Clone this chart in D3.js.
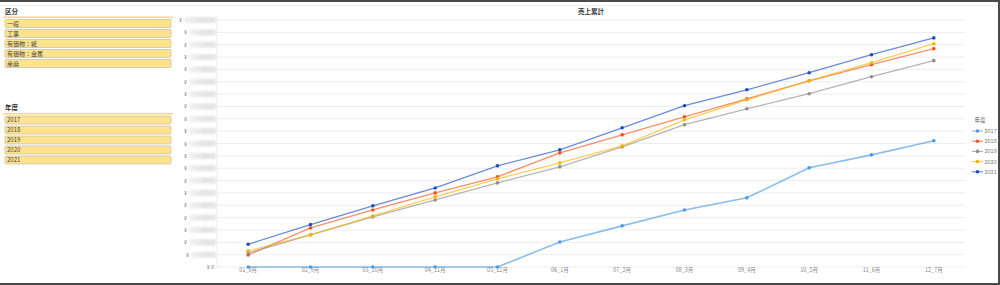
<!DOCTYPE html>
<html>
<head>
<meta charset="utf-8">
<script src="https://cdn.jsdelivr.net/npm/d3@7/dist/d3.min.js"></script>
<style>
  body { margin: 0; background: #fff; }
  svg { display: block; font-family: "Noto Sans CJK JP", "Noto Sans", sans-serif; }
</style>
</head>
<body>
<div id="chart"></div>
<script>
// data (values in units of one grid step, labels are masked in the source)
const months = ["01_8月", "02_9月", "03_10月", "04_11月", "05_12月", "06_1月",
                "07_2月", "08_3月", "09_4月", "10_5月", "11_6月", "12_7月"];
const years = ["2017", "2018", "2019", "2020", "2021"];
const kubun = ["一般", "工事", "有価物：紙", "有価物：金属", "産廃"];
const v2017 = [0, 0, 0, 0, 0, 2.03, 3.33, 4.62, 5.6, 8.03, 9.08, 10.22];
const v2018 = [0.97, 3.16, 4.62, 6.0, 7.3, 9.24, 10.7, 12.16, 13.62, 15.08, 16.38, 17.68];
const v2019 = [1.14, 2.6, 4.05, 5.43, 6.81, 8.11, 9.73, 11.52, 12.81, 14.03, 15.41, 16.71];
const v2020 = [1.3, 2.6, 4.13, 5.68, 7.14, 8.43, 9.81, 11.92, 13.54, 15.08, 16.54, 18.08];
const v2021 = [1.84, 3.43, 4.95, 6.4, 8.19, 9.49, 11.27, 13.06, 14.35, 15.73, 17.19, 18.55];
const yTicks = d3.range(0, 21, 1);
const seriesColors = ["#4a9be3", "#f4511e", "#8e8e8e", "#ffb300", "#1a4fc0"];

const series = years.map((y, i) => ({
  name: y,
  color: seriesColors[i],
  values: [v2017, v2018, v2019, v2020, v2021][i]
}));

const W = 1000, H = 285;
const svg = d3.select('#chart').append('svg')
  .attr('width', W)
  .attr('height', H);

const defs = svg.append('defs');
defs.append('filter').attr('id', 'blur')
  .attr('x', '-20%').attr('y', '-80%').attr('width', '140%').attr('height', '260%')
  .append('feGaussianBlur').attr('stdDeviation', 1.1);
const grad = defs.append('linearGradient').attr('id', 'mask');
grad.append('stop').attr('offset', '0%').attr('stop-color', '#f2f2f2');
grad.append('stop').attr('offset', '60%').attr('stop-color', '#e3e3e3');
grad.append('stop').attr('offset', '100%').attr('stop-color', '#e6e6e6');

// window frame
svg.append('rect').attr('x', 0).attr('y', 0).attr('width', W).attr('height', 2).attr('fill', '#4a4a4a');
svg.append('rect').attr('x', W - 2).attr('y', 0).attr('width', 2).attr('height', H).attr('fill', '#4a4a4a');
svg.append('rect').attr('x', 0).attr('y', H - 2).attr('width', W).attr('height', 2).attr('fill', '#4a4a4a');
svg.append('line').attr('x1', 0).attr('x2', W - 2).attr('y1', 5.5).attr('y2', 5.5)
  .attr('stroke', '#eeeeee');

// left filter panel
function panel(title, items, top) {
  const g = svg.append('g').attr('transform', `translate(0,${top})`);
  g.append('text')
    .attr('x', 5).attr('y', 0)
    .attr('font-size', 6.5).attr('font-weight', 'bold').attr('fill', '#333')
    .text(title);
  g.append('rect').attr('x', 3).attr('y', 3).attr('width', 170).attr('height', 1.5)
    .attr('fill', '#fbd873');
  const b = g.selectAll('.btn').data(items).enter().append('g')
    .attr('class', 'btn')
    .attr('transform', (d, i) => `translate(5,${6 + i * 10})`);
  b.append('rect')
    .attr('width', 166).attr('height', 8).attr('rx', 1)
    .attr('fill', '#ffe38c')
    .attr('stroke', '#c9c3ae').attr('stroke-width', 0.8);
  b.append('text')
    .attr('x', 2).attr('y', 6)
    .attr('font-size', 6).attr('fill', '#444')
    .text(d => d);
}
panel('区分', kubun, 13.5);
panel('年度', years, 110);

// chart
const x = d3.scaleBand().domain(months).range([217, 965]);
const y = d3.scaleLinear().domain([0, 20]).range([267, 20]);

svg.append('text')
  .attr('x', (217 + 965) / 2).attr('y', 14)
  .attr('text-anchor', 'middle')
  .attr('font-size', 6.5).attr('font-weight', 'bold').attr('fill', '#333')
  .text('売上累計');

// grid
svg.append('g').selectAll('line').data(yTicks).enter().append('line')
  .attr('x1', 217).attr('x2', 965)
  .attr('y1', d => y(d)).attr('y2', d => y(d))
  .attr('stroke', '#ededed').attr('stroke-width', 1);
svg.append('line').attr('x1', 217).attr('x2', 217).attr('y1', 16).attr('y2', 268)
  .attr('stroke', '#ededed');

// y labels (amounts masked as in the source)
const yl = svg.append('g').selectAll('g').data(yTicks).enter().append('g');
yl.filter(d => d > 0).append('rect')
  .attr('x', d => d === 20 ? 184 : (d === 1 ? 191 : 189))
  .attr('y', d => y(d) - 3)
  .attr('width', d => d === 20 ? 32 : (d === 1 ? 25 : 27))
  .attr('height', 6)
  .attr('fill', 'url(#mask)')
  .attr('filter', 'url(#blur)');
yl.append('text')
  .attr('x', d => d === 0 ? 214 : (d === 20 ? 182 : (d === 1 ? 189 : 187)))
  .attr('y', d => y(d) + 2)
  .attr('text-anchor', 'end')
  .attr('font-size', 5.5).attr('fill', '#777')
  .text(d => d === 0 ? '¥ 0' : '¥');

// x labels
svg.append('g').selectAll('text').data(months).enter().append('text')
  .attr('x', d => x(d) + x.bandwidth() / 2)
  .attr('y', 272)
  .attr('text-anchor', 'middle')
  .attr('font-size', 5.5).attr('fill', '#888')
  .text(d => d);

// lines
const line = d3.line()
  .x((d, i) => x(months[i]) + x.bandwidth() / 2)
  .y(d => y(d));

const sg = svg.append('g').selectAll('g').data(series).enter().append('g');
sg.append('path')
  .attr('d', d => line(d.values))
  .attr('fill', 'none')
  .attr('stroke', d => d.color)
  .attr('stroke-opacity', 0.65)
  .attr('stroke-width', d => d.name === '2017' ? 1.6 : 1.3);
sg.selectAll('circle').data(d => d.values.map(v => ({v, c: d.color}))).enter().append('circle')
  .attr('cx', (d, i) => x(months[i]) + x.bandwidth() / 2)
  .attr('cy', d => y(d.v))
  .attr('r', 1.8)
  .attr('fill', d => d.c);

// legend
const legend = svg.append('g').attr('transform', 'translate(972,0)');
legend.append('text')
  .attr('x', 8).attr('y', 122)
  .attr('text-anchor', 'middle')
  .attr('font-size', 5.5).attr('fill', '#555')
  .text('年度');
const li = legend.selectAll('.li').data(series).enter().append('g')
  .attr('transform', (d, i) => `translate(0,${131 + i * 10.2})`);
li.append('line').attr('x1', 0).attr('x2', 11).attr('y1', 0).attr('y2', 0)
  .attr('stroke', d => d.color).attr('stroke-opacity', 0.65).attr('stroke-width', 1.2);
li.append('circle').attr('cx', 5.5).attr('cy', 0).attr('r', 1.8).attr('fill', d => d.color);
li.append('text').attr('x', 12.5).attr('y', 2)
  .attr('font-size', 5.5).attr('fill', '#777')
  .text(d => d.name);
</script>
</body>
</html>
